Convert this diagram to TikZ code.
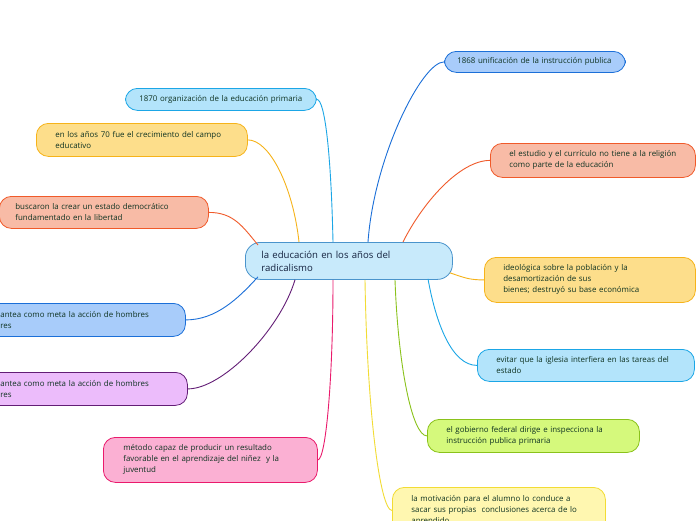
\documentclass[tikz,border=0pt]{standalone}
\usepackage{fontspec}
\setmainfont{Open Sans}
\usetikzlibrary{calc}
\definecolor{txt}{HTML}{0F3322}
\definecolor{ctxt}{HTML}{14223F}
\definecolor{lbF}{HTML}{B3E4FB}\definecolor{lbD}{HTML}{1BA6E6}
\definecolor{orF}{HTML}{FDDE8B}\definecolor{orD}{HTML}{F6B31A}
\definecolor{saF}{HTML}{F8BBA6}\definecolor{saD}{HTML}{F05A2A}
\definecolor{ceF}{HTML}{C8EAFB}\definecolor{ceD}{HTML}{4A94CC}
\definecolor{buF}{HTML}{A8CCFA}\definecolor{buD}{HTML}{1B6FD8}
\definecolor{puF}{HTML}{ECBCFB}\definecolor{puD}{HTML}{631D76}
\definecolor{piF}{HTML}{FBB0D3}\definecolor{piD}{HTML}{EA1A6C}
\definecolor{yeF}{HTML}{FFF7B0}\definecolor{yeD}{HTML}{F2DC34}
\definecolor{grF}{HTML}{D5F97C}\definecolor{grD}{HTML}{8AC21B}
\newcommand{\ml}[1]{\mbox{#1}}
\tikzset{
  topic/.style={draw, line width=0.8pt, anchor=north west, align=left,
    text=txt, font=\fontsize{7.9}{11}\selectfont, inner ysep=0pt, rounded corners=12pt},
  conn/.style={line width=0.9pt},
}
\newcommand{\topicnode}[8]{% name, x, y, w, h, margin, colour prefix, text
  \pgfmathsetmacro{\tw}{#4-2*#6}
  \node[topic, fill=#7F, draw=#7D, minimum width=#4pt, minimum height=#5pt,
        inner xsep=#6pt, text width=\tw pt] (#1) at (#2,#3) {#8};}
\begin{document}
\begin{tikzpicture}[x=1pt,y=-1pt]
\useasboundingbox (0,0) rectangle (696,520);
\clip (0,0) rectangle (696,520);
\fill[white] (0,0) rectangle (696,520);

% center
\node[draw=ceD, fill=ceF, line width=0.8pt, rounded corners=15pt, anchor=north west,
      minimum width=207pt, minimum height=37pt, inner xsep=16pt, text width=175pt,
      align=left, text=ctxt, font=\fontsize{9.6}{13}\selectfont] (c) at (245,242)
      {\ml{la educación en los años del}\\\ml{radicalismo}};

% topics
\topicnode{n1870}{125}{88}{191}{22}{14}{lb}{\ml{1870 organización de la educación primaria}}
\topicnode{n70}{36}{123}{211}{33}{19}{or}{\ml{en los años 70 fue el crecimiento del campo}\\\ml{educativo}}
\topicnode{nbus}{-1}{196}{209}{32}{16}{sa}{\ml{buscaron la crear un estado democrático}\\\ml{fundamentado en la libertad}}
\topicnode{nbl}{-60}{303}{245}{33}{60}{bu}{\ml{antea como meta la acción de hombres}\\\ml{res}}
\topicnode{npur}{-60}{372}{247}{33}{60}{pu}{\ml{antea como meta la acción de hombres}\\\ml{res}}
\topicnode{npink}{103}{437}{214}{45}{20}{pi}{\ml{método capaz de producir un resultado}\\\ml{favorable en el aprendizaje del niñez~ y la}\\\ml{juventud}}
\topicnode{nyel}{392}{487}{213}{46}{19}{ye}{\ml{la motivación para el alumno lo conduce a}\\\ml{sacar sus propias~ conclusiones acerca de lo}\\\ml{aprendido}}
\topicnode{ngr}{427}{419}{212}{33}{19}{gr}{\ml{el gobierno federal dirige e inspecciona la}\\\ml{instrucción publica primaria}}
\topicnode{nlb}{477}{349}{217}{32}{19}{lb}{\ml{evitar que la iglesia interfiera en las tareas del}\\\ml{estado}}
\topicnode{nor}{484}{257}{211}{45}{19}{or}{\ml{ideológica sobre la población y la}\\\ml{desamortización de sus}\\\ml{bienes; destruyó su base económica}}
\topicnode{nsa}{490}{143}{205}{34}{19}{sa}{\ml{el estudio y el currículo no tiene a la religión}\\\ml{como parte de la educación}}
\topicnode{n1868}{444}{51}{181}{21}{13}{bu}{\ml{1868 unificación de la instrucción publica}}

% attachment points on the centre
\coordinate (t1870) at ($(c.north west)+(88,0)$);
\coordinate (t70)   at ($(c.north west)+(54,0)$);
\coordinate (tbus)  at ($(c.north west)+(13,3)$);
\coordinate (t1868) at ($(c.north west)+(123,0)$);
\coordinate (tsa)   at ($(c.north west)+(158,0)$);
\coordinate (bbl)   at ($(c.south west)+(13,-3)$);
\coordinate (bpur)  at ($(c.south west)+(50,0)$);
\coordinate (bpink) at ($(c.south west)+(88,0)$);
\coordinate (byel)  at ($(c.south west)+(120,0)$);
\coordinate (bgr)   at ($(c.south west)+(150,0)$);
\coordinate (blb)   at ($(c.south west)+(183,-1)$);
\coordinate (bor)   at ($(c.south east)+(-3,-7)$);

% connectors (y axis points down)
\draw[conn, lbD] (t1870) .. controls +(-2,-90) and +(8,0) .. (n1870.east);
\draw[conn, orD] (t70) .. controls +(-6,-55) and +(22,0) .. (n70.east);
\draw[conn, saD] (tbus) .. controls +(-15,-18) and +(25,0) .. (nbus.east);
\draw[conn, buD] (t1868) .. controls +(6,-85) and +(-22,0) .. (n1868.west);
\draw[conn, saD] (tsa) .. controls +(20,-40) and +(-30,0) .. (nsa.west);
\draw[conn, buD] (bbl) .. controls +(-20,22) and +(30,0) .. (nbl.east);
\draw[conn, puD] (bpur) .. controls +(-15,50) and +(35,0) .. (npur.east);
\draw[conn, piD] (bpink) .. controls +(0,100) and +(8,0) .. (npink.east);
\draw[conn, yeD] (byel) .. controls +(2,130) and +(-12,0) .. (nyel.west);
\draw[conn, grD] (bgr) .. controls +(3,85) and +(-15,0) .. (ngr.west);
\draw[conn, lbD] (blb) .. controls +(8,45) and +(-25,0) .. (nlb.west);
\draw[conn, orD] (bor) .. controls +(15,5) and +(-15,0) .. (nor.west);
\end{tikzpicture}
\end{document}
